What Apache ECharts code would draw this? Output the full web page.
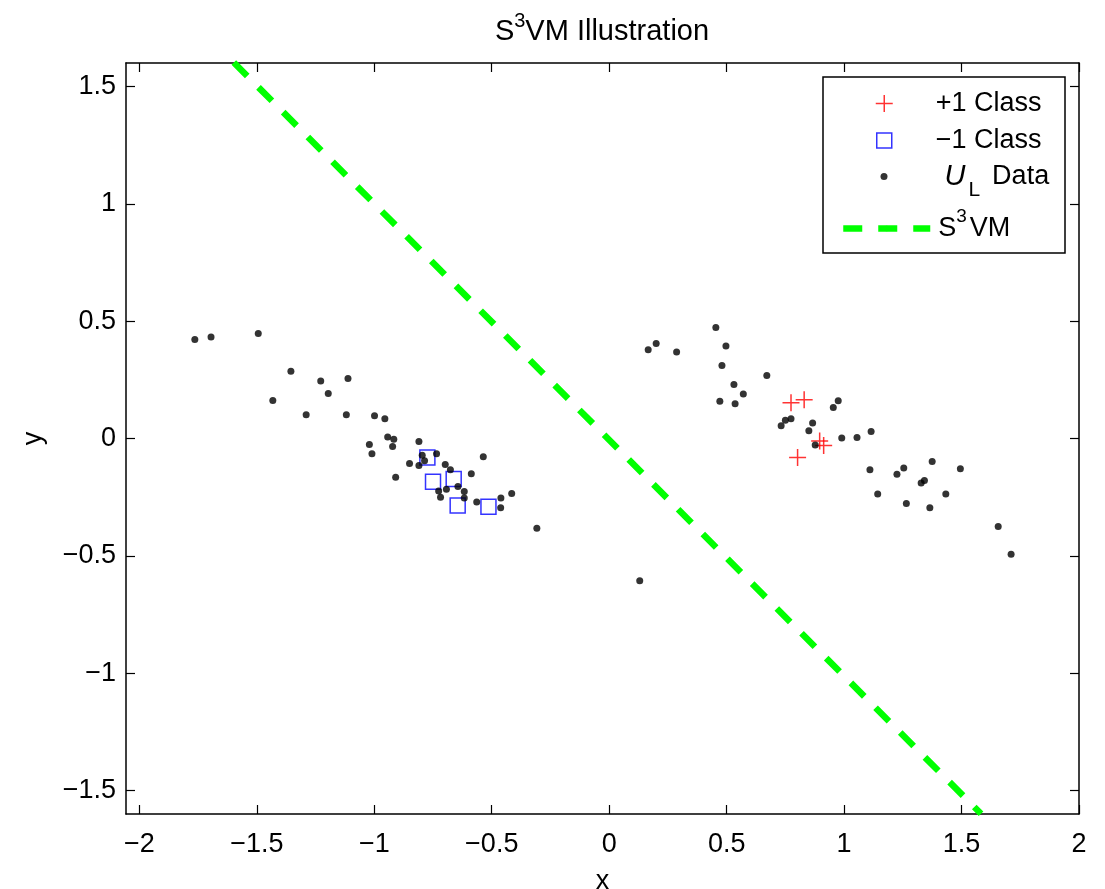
<!DOCTYPE html>
<html>
<head>
<meta charset="utf-8">
<script src="https://cdn.jsdelivr.net/npm/echarts@6/dist/echarts.min.js"></script>
<style>
html,body{margin:0;padding:0;background:#fff;}
#chart{width:1105px;height:889px;}
</style>
</head>
<body>
<div id="chart"></div>
<script>
// ---- data ----
var xTicks = [-2, -1.5, -1, -0.5, 0, 0.5, 1, 1.5, 2];
var yTicks = [-1.5, -1, -0.5, 0, 0.5, 1, 1.5];

var plusX = [0.774, 0.830, 0.896, 0.913, 0.802];
var plusY = [0.152, 0.165, -0.011, -0.030, -0.081];

var squareX = [-0.774, -0.750, -0.662, -0.645, -0.514];
var squareY = [-0.081, -0.184, -0.173, -0.285, -0.291];

var dotX = [-1.764, -1.695, -1.494, -1.355, -1.432, -1.228, -1.112, -1.196, -1.290, -1.119,
            -0.999, -0.955, -0.943, -0.917, -0.922, -1.021, -1.010, -0.810, -0.909, -0.850,
            -0.796, -0.786, -0.810, -0.735, -0.698, -0.676, -0.587, -0.536, -0.644, -0.726,
            -0.693, -0.718, -0.617, -0.617, -0.564, -0.461, -0.415, -0.462, -0.308,
            0.130, 0.166, 0.200, 0.287, 0.454, 0.497, 0.480, 0.531, 0.571, 0.471,
            0.536, 0.671, 0.732, 0.750, 0.774, 0.866, 0.850, 0.877, 0.954, 0.975,
            0.990, 1.055, 1.115, 1.110, 1.143, 1.225, 1.254, 1.265, 1.328, 1.342,
            1.375, 1.365, 1.433, 1.495, 1.656, 1.711];
var dotY = [0.422, 0.432, 0.447, 0.287, 0.162, 0.245, 0.256, 0.192, 0.101, 0.101,
            0.097, 0.084, 0.006, -0.003, -0.034, -0.026, -0.065, -0.013, -0.165, -0.106,
            -0.071, -0.095, -0.115, -0.065, -0.111, -0.133, -0.150, -0.078, -0.205, -0.224,
            -0.216, -0.250, -0.226, -0.253, -0.271, -0.254, -0.234, -0.295, -0.382,
            -0.606, 0.378, 0.405, 0.369, 0.473, 0.394, 0.311, 0.230, 0.190, 0.159,
            0.148, 0.268, 0.054, 0.078, 0.084, 0.066, 0.033, -0.028, 0.132, 0.161,
            0.002, 0.004, 0.030, -0.133, -0.236, -0.152, -0.126, -0.277, -0.190, -0.179,
            -0.098, -0.295, -0.236, -0.129, -0.375, -0.493];

var s3vmX = [-1.598, 1.583];
var s3vmY = [1.602, -1.599];

var seriesNames = ['+1 Class', '\u22121 Class', 'UL Data', 'S3VM'];

// ---- build ----
function zip(a, b) { return a.map(function (v, i) { return [v, b[i]]; }); }
var FONT = 'Liberation Sans';
function fmt(v) { return String(v).replace('-', '\u2212'); }

var chart = echarts.init(document.getElementById('chart'), null, {renderer: 'canvas'});

var axisCommon = {
  type: 'value',
  axisLine: {show: true, onZero: false, lineStyle: {color: '#000', width: 1.5}},
  splitLine: {show: false},
  axisTick: {show: true, inside: true, length: 9, lineStyle: {color: '#000', width: 1.2}},
};

function xAx(pos, showLabel) {
  return Object.assign({}, axisCommon, {
    position: pos, min: -2.057, max: 2,
    axisTick: Object.assign({}, axisCommon.axisTick, {customValues: xTicks}),
    axisLabel: {show: showLabel, customValues: xTicks, formatter: fmt, margin: 17,
      fontFamily: FONT, fontSize: 27, color: '#000'},
    name: showLabel ? 'x' : '', nameLocation: 'middle', nameGap: 54,
    nameTextStyle: {fontFamily: FONT, fontSize: 27, color: '#000'}
  });
}
function yAx(pos, showLabel) {
  return Object.assign({}, axisCommon, {
    position: pos, min: -1.6, max: 1.6,
    axisTick: Object.assign({}, axisCommon.axisTick, {customValues: yTicks}),
    axisLabel: {show: showLabel, customValues: yTicks, formatter: fmt, margin: 10,
      padding: [4, 0, 0, 0],
      fontFamily: FONT, fontSize: 27, color: '#000'},
    name: showLabel ? 'y' : '', nameLocation: 'middle', nameGap: 79,
    nameTextStyle: {fontFamily: FONT, fontSize: 27, color: '#000'}
  });
}

var legendText = {
  '+1 Class': '{a|+1 Class}',
  '\u22121 Class': '{a|\u22121 Class}',
  'UL Data': '{p|}{u|U}{sub|L}{d|Data}',
  'S3VM': '{a|S}{sup|3}{a|VM}'
};
var richCommon = {
  a: {fontFamily: FONT, fontSize: 27, lineHeight: 36, color: '#000', padding: [0, 0, 0, 3]},
  d: {fontFamily: FONT, fontSize: 27, lineHeight: 36, color: '#000', padding: [0, 0, 0, 12]},
  p: {width: 12},
  u: {fontFamily: FONT, fontSize: 29, lineHeight: 36, fontStyle: 'italic', color: '#000'},
  sub: {fontFamily: FONT, fontSize: 21, lineHeight: 21, color: '#000', padding: [28, 0, 0, 3]},
  sup: {fontFamily: FONT, fontSize: 19, lineHeight: 19, color: '#000', padding: [0, 0, 24, 0]}
};
function mkLegend(name, left, top, itemHeight, extra) {
  return Object.assign({
    data: [name], left: left, top: top, orient: 'vertical', padding: 0,
    itemWidth: 87, itemHeight: itemHeight, selectedMode: false,
    formatter: function (n) { return legendText[n]; },
    textStyle: {fontFamily: FONT, fontSize: 27, color: '#000', rich: richCommon}
  }, extra || {});
}

var option = {
  backgroundColor: '#fff',
  animation: false,
  title: {
    text: '{a|S}{sup|3}{a|VM Illustration}',
    left: 602, top: 12, textAlign: 'center', padding: 0,
    textStyle: {
      fontFamily: FONT, fontSize: 29, fontWeight: 'normal', color: '#000',
      rich: {
        a: {fontFamily: FONT, fontSize: 29, lineHeight: 40, color: '#000'},
        sup: {fontFamily: FONT, fontSize: 20, lineHeight: 20, color: '#000', padding: [0, 0, 22, 0]}
      }
    }
  },
  grid: {left: 126, top: 63, width: 953, height: 751, containLabel: false, outerBoundsMode: 'none'},
  xAxis: [xAx('bottom', true), xAx('top', false)],
  yAxis: [yAx('left', true), yAx('right', false)],
  graphic: [{
    type: 'rect', z: 3, silent: true,
    shape: {x: 823, y: 77, width: 242, height: 176},
    style: {fill: '#fff', stroke: '#000', lineWidth: 1.5}
  }],
  legend: [
    mkLegend(seriesNames[0], 875, 90, 17, {itemStyle: {borderWidth: 1.5}}),
    mkLegend(seriesNames[1], 876, 127, 15, {itemStyle: {borderWidth: 1.5}}),
    mkLegend(seriesNames[2], 880.5, 152, 7, {itemStyle: {borderWidth: 0}}),
    mkLegend(seriesNames[3], 840, 207, 7, {lineStyle: {width: 6.5, type: [19, 16], cap: 'butt'}})
  ],
  series: [
    {
      name: seriesNames[0], type: 'scatter', xAxisIndex: 0, yAxisIndex: 0,
      data: zip(plusX, plusY),
      symbol: 'path://M0,-1L0,1M-1,0L1,0', symbolSize: 17,
      itemStyle: {color: 'rgba(0,0,0,0)', borderColor: '#ff0000', borderWidth: 1.5}
    },
    {
      name: seriesNames[1], type: 'scatter', xAxisIndex: 0, yAxisIndex: 0,
      data: zip(squareX, squareY),
      symbol: 'path://M-1,-1L1,-1L1,1L-1,1Z', symbolSize: 15,
      itemStyle: {color: 'rgba(0,0,0,0)', borderColor: '#0000ff', borderWidth: 1.5}
    },
    {
      name: seriesNames[2], type: 'scatter', xAxisIndex: 0, yAxisIndex: 0,
      data: zip(dotX, dotY),
      symbol: 'circle', symbolSize: 7,
      itemStyle: {color: '#000'}
    },
    {
      name: seriesNames[3], type: 'line', xAxisIndex: 0, yAxisIndex: 0,
      data: zip(s3vmX, s3vmY), symbol: 'none', clip: true,
      lineStyle: {color: '#00ff00', width: 6.5, type: [19, 16], cap: 'butt'},
      itemStyle: {color: '#00ff00'}
    }
  ]
};
chart.setOption(option);
</script>
</body>
</html>
